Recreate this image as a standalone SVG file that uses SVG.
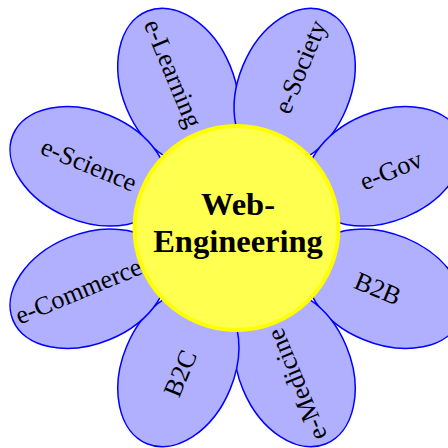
<svg xmlns="http://www.w3.org/2000/svg" width="448" height="448" viewBox="0 0 448 448">
<style>
.petal{fill:#b0b0ff;stroke:#0000ff;stroke-width:1.5}
.lbl{font-family:"Liberation Serif","Times New Roman",serif;font-size:26px;fill:#000;text-anchor:middle}
.core{fill:#ffff50;stroke:#ffff00;stroke-width:4}
.title{font-family:"Liberation Serif","Times New Roman",serif;font-size:32.5px;font-weight:bold;fill:#000;text-anchor:middle}
</style>
<rect width="448" height="448" fill="#fff"/>
<g id="connectors"/>
<g id="petal-elearning">
<ellipse class="petal" transform="translate(236.5 227.5) rotate(-112.5)" cx="152" cy="0" rx="82" ry="56"/>
<text class="lbl" transform="translate(165.2 76.7) rotate(67.5)">e-Learning</text>
</g>
<g id="petal-esociety">
<ellipse class="petal" transform="translate(236.5 227.5) rotate(-67.5)" cx="152" cy="0" rx="82" ry="56"/>
<text class="lbl" transform="translate(308.2 70.2) rotate(-67.5)">e-Society</text>
</g>
<g id="petal-egov">
<ellipse class="petal" transform="translate(236.5 227.5) rotate(-22.5)" cx="160" cy="0" rx="82" ry="55"/>
<text class="lbl" transform="translate(394.2 178.2) rotate(-22.5)">e-Gov</text>
</g>
<g id="petal-b2b">
<ellipse class="petal" transform="translate(236.5 227.5) rotate(22.5)" cx="160" cy="0" rx="82" ry="55"/>
<text class="lbl" transform="translate(374.5 296.5) rotate(22.5)">B2B</text>
</g>
<g id="petal-emedicine">
<ellipse class="petal" transform="translate(236.5 227.5) rotate(67.5)" cx="152" cy="0" rx="82" ry="56"/>
<text class="lbl" transform="translate(304.8 381.3) rotate(-112.5)">e-Medicine</text>
</g>
<g id="petal-b2c">
<ellipse class="petal" transform="translate(236.5 227.5) rotate(112.5)" cx="152" cy="0" rx="82" ry="56"/>
<text class="lbl" transform="translate(188.2 376.7) rotate(-67.5)">B2C</text>
</g>
<g id="petal-ecommerce">
<ellipse class="petal" transform="translate(236.5 227.5) rotate(157.5)" cx="160" cy="0" rx="82" ry="55"/>
<text class="lbl" transform="translate(81.7 299) rotate(-22.5)">e-Commerce</text>
</g>
<g id="petal-escience">
<ellipse class="petal" transform="translate(236.5 227.5) rotate(-157.5)" cx="160" cy="0" rx="82" ry="55"/>
<text class="lbl" transform="translate(85.6 172.5) rotate(22.5)">e-Science</text>
</g>
<g id="center">
<circle class="core" cx="236.5" cy="228" r="102"/>
<text class="title" x="238" y="215">Web-</text>
<text class="title" x="238" y="251.5">Engineering</text>
</g>
</svg>
